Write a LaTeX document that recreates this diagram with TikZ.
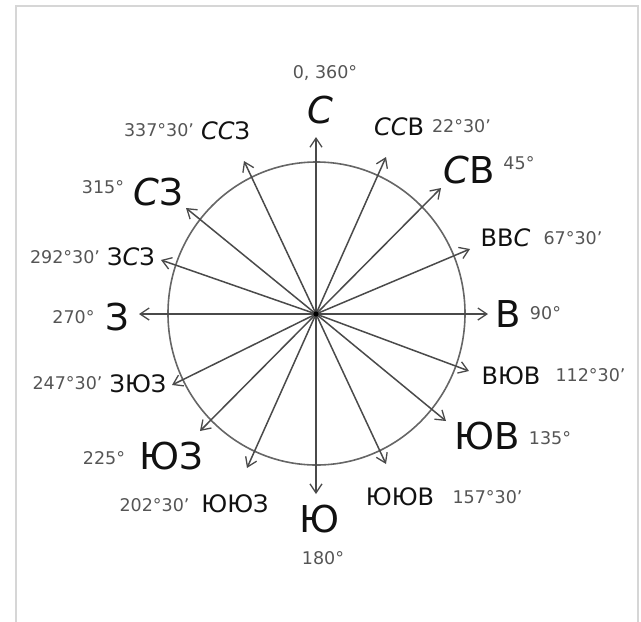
\documentclass[tikz,border=0pt]{standalone}
\usepackage{fontspec}
\setmainfont{DejaVu Sans}
\usetikzlibrary{arrows.meta}
\definecolor{linegray}{HTML}{4A4A4A}
\definecolor{circgray}{HTML}{666666}
\definecolor{numgray}{HTML}{555555}
\definecolor{framegray}{HTML}{D6D6D6}
\definecolor{inkblack}{HTML}{111111}
\newcommand\Ci{{\itshape С}}
\tikzset{
  big/.style={inner sep=0pt, anchor=center, text=inkblack, font=\fontsize{37}{37}\selectfont},
  mid/.style={inner sep=0pt, anchor=center, text=inkblack, font=\fontsize{24}{24}\selectfont},
  deg/.style={inner sep=0pt, anchor=center, text=numgray, font=\fontsize{17.5}{17.5}\selectfont},
  ray/.style={draw=linegray, line width=1.5pt, -{Straight Barb[length=9pt,width=12pt,line width=1.3pt]}},
  rim/.style={draw=circgray, line width=1.6pt},
  frame/.style={draw=framegray, line width=2pt}
}
\begin{document}
\begin{tikzpicture}[x=1pt,y=-1pt]
\useasboundingbox (0,0) rectangle (641,622);
% frame
\draw[frame] (16,622) -- (16,6) -- (638,6) -- (638,622);
% circle
\coordinate (O) at (316,314);
\draw[rim] (316.5,313.5) ellipse [x radius=148.5, y radius=151.5];
% ray tips
\coordinate (tN) at (316,137);
\coordinate (tNNE) at (386,157);
\coordinate (tNE) at (441,188);
\coordinate (tENE) at (470,249);
\coordinate (tE) at (488,314);
\coordinate (tESE) at (469,371);
\coordinate (tSE) at (446,421);
\coordinate (tSSE) at (386,464);
\coordinate (tS) at (316,494);
\coordinate (tSSW) at (247,468);
\coordinate (tSW) at (200,431);
\coordinate (tWSW) at (172,385);
\coordinate (tW) at (139,314);
\coordinate (tWNW) at (161,260);
\coordinate (tNW) at (186,208);
\coordinate (tNNW) at (244,161);
\foreach \t in {N,NNE,NE,ENE,E,ESE,SE,SSE,S,SSW,SW,WSW,W,WNW,NW,NNW}
  \draw[ray] (O) -- (t\t);
\fill[black] (O) circle [radius=2.6];
% labels
\node[deg] (dN) at (325,73) {0, 360°};
\node[big] (lN) at (320,110) {\Ci};
\node[mid] (lNNE) at (399,127) {\Ci\Ci В};
\node[deg] (dNNE) at (461.5,126) {22°30'};
\node[big] (lNE) at (469.5,170) {\Ci В};
\node[deg] (dNE) at (519,163) {45°};
\node[mid] (lENE) at (505.5,238) {ВВ\Ci};
\node[deg] (dENE) at (573,238) {67°30'};
\node[big] (lE) at (508,314) {В};
\node[deg] (dE) at (545.5,313) {90°};
\node[mid] (lESE) at (511,376) {ВЮВ};
\node[deg] (dESE) at (590.5,375) {112°30'};
\node[big] (lSE) at (487.5,436) {ЮВ};
\node[deg] (dSE) at (550,438) {135°};
\node[mid] (lSSE) at (400,497) {ЮЮВ};
\node[deg] (dSSE) at (487.5,497) {157°30'};
\node[big] (lS) at (319.5,519) {Ю};
\node[deg] (dS) at (323,558) {180°};
\node[mid] (lSSW) at (235,504) {ЮЮЗ};
\node[deg] (dSSW) at (154.5,505) {202°30'};
\node[big] (lSW) at (171.5,456) {ЮЗ};
\node[deg] (dSW) at (104,458) {225°};
\node[mid] (lWSW) at (138,383.5) {ЗЮЗ};
\node[deg] (dWSW) at (67.5,383) {247°30'};
\node[big] (lW) at (117,317) {З};
\node[deg] (dW) at (73.5,317) {270°};
\node[mid] (lWNW) at (131,257) {З\Ci З};
\node[deg] (dWNW) at (65,257) {292°30'};
\node[big] (lNW) at (158.5,192) {\Ci З};
\node[deg] (dNW) at (103,187) {315°};
\node[mid] (lNNW) at (225.5,131) {\Ci\Ci З};
\node[deg] (dNNW) at (159,130) {337°30'};
\end{tikzpicture}
\end{document}
